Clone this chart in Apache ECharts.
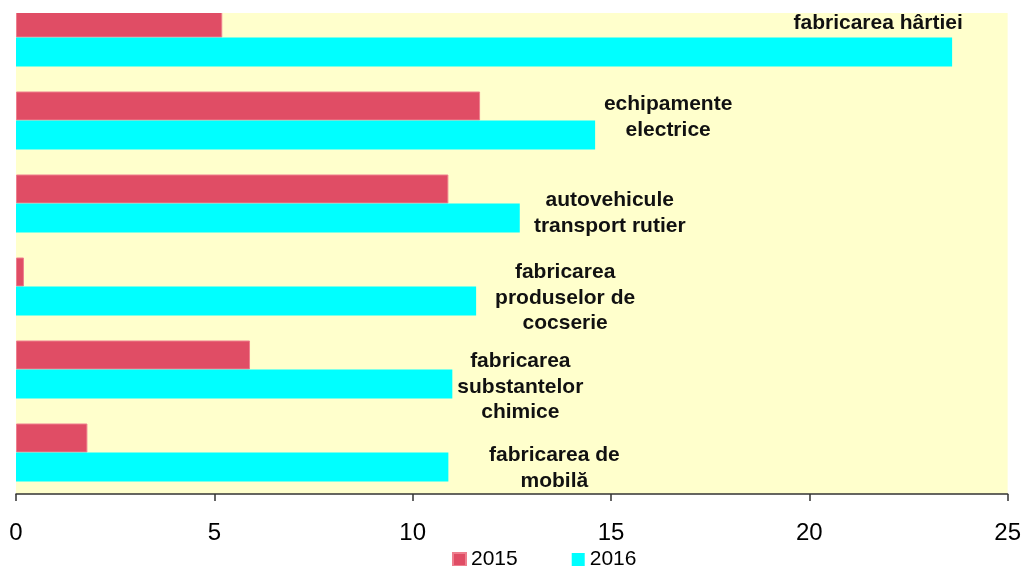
<!DOCTYPE html>
<html>
<head>
<meta charset="utf-8">
<script src="https://cdn.jsdelivr.net/npm/echarts@6/dist/echarts.min.js"></script>
<style>
  html, body { margin: 0; padding: 0; background: #fff; overflow: hidden; }
  /* the plot is cut at the top in the picture, so the chart starts a little above the page */
  #chart { position: absolute; left: 0; top: -4px; width: 1024px; height: 570px; }
</style>
</head>
<body>
<div id="chart"></div>
<script>
const categories = [
  'fabricarea hârtiei',
  'echipamente electrice',
  'autovehicule transport rutier',
  'fabricarea produselor de cocserie',
  'fabricarea substantelor chimice',
  'fabricarea de mobilă',
]

// label text as it is broken in the picture
const labelLines = [
  'fabricarea hârtiei',
  'echipamente\nelectrice',
  'autovehicule\ntransport rutier',
  'fabricarea\nproduselor de\ncocserie',
  'fabricarea\nsubstantelor\nchimice',
  'fabricarea de\nmobilă',
]

const values2015 = [5.2, 11.7, 10.9, 0.2, 5.9, 1.8]
const values2016 = [23.6, 14.6, 12.7, 11.6, 11.0, 10.9]

const xTicks = [0, 5, 10, 15, 20, 25]

// where each label sits, relative to the end of its 2016 bar
const labelOffsets = [[-74, -29], [73, -18], [90, -5], [89, -3], [68, 3], [106, 1]]

const chart = echarts.init(document.getElementById('chart'))

chart.setOption({
  animation: false,
  backgroundColor: '#fff',
  textStyle: { fontFamily: 'Liberation Sans, Arial, sans-serif' },
  grid: {
    left: 16,
    right: 15,
    top: 0,
    bottom: 72,
    show: true,
    backgroundColor: '#FFFFCC',
    borderWidth: 0,
  },
  legend: {
    left: 452,
    top: 553,
    padding: 0,
    itemWidth: 13,
    itemHeight: 13,
    itemGap: 54,
    icon: 'rect',
    textStyle: { fontSize: 21, color: '#000' },
    data: ['2015', '2016'],
  },
  xAxis: {
    type: 'value',
    min: xTicks[0],
    max: xTicks[xTicks.length - 1],
    interval: 5,
    axisLine: { show: true, lineStyle: { color: '#333', width: 1.5 } },
    axisTick: { show: true, length: 7, lineStyle: { color: '#333', width: 1.5 } },
    axisLabel: { fontSize: 24, color: '#000', margin: 27 },
    splitLine: { show: false },
  },
  yAxis: {
    type: 'category',
    inverse: true,
    data: categories,
    axisLine: { show: false },
    axisTick: { show: false },
    axisLabel: { show: false },
  },
  series: [
    {
      name: '2015',
      type: 'bar',
      barWidth: 29,
      barGap: '0%',
      itemStyle: { color: '#E04D65', borderColor: '#EE7F8E', borderWidth: 1 },
      data: values2015,
    },
    {
      name: '2016',
      type: 'bar',
      barWidth: 29,
      itemStyle: { color: '#00FFFF' },
      data: values2016.map((v, i) => ({
        value: v,
        label: {
          show: true,
          position: 'right',
          distance: 0,
          align: 'center',
          verticalAlign: 'middle',
          offset: labelOffsets[i],
          formatter: labelLines[i],
          fontSize: 21,
          fontWeight: 'bold',
          lineHeight: 25.5,
          color: '#111',
        },
      })),
    },
  ],
  graphic: [
    {
      type: 'rect',
      z: 100,
      shape: { x: 0, y: 0, width: 1024, height: 17 },
      style: { fill: '#fff' },
    },
  ],
})
</script>
</body>
</html>
